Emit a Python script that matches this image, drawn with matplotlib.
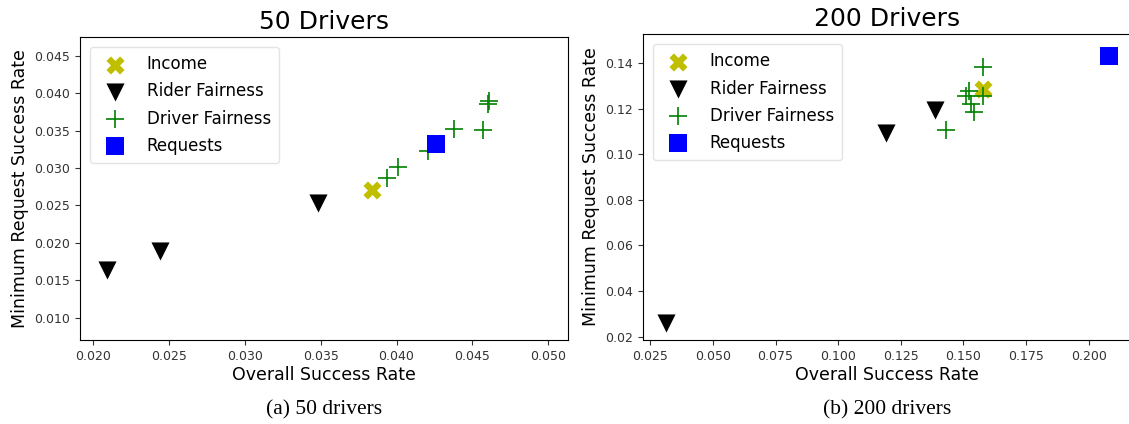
import matplotlib
matplotlib.use("Agg")
import matplotlib.pyplot as plt

# ---- 50 drivers ----
income50_x = [0.0384]
income50_y = [0.0270]
rider50_x = [0.0209, 0.0244, 0.0348]
rider50_y = [0.0164, 0.0189, 0.0253]
driver50_x = [0.0394, 0.0401, 0.0421, 0.0438, 0.0457, 0.0460, 0.0461]
driver50_y = [0.0286, 0.0301, 0.0322, 0.0352, 0.0351, 0.0386, 0.0390]
req50_x = [0.0426]
req50_y = [0.0332]

# ---- 200 drivers ----
income200_x = [0.1580]
income200_y = [0.1284]
rider200_x = [0.0313, 0.1190, 0.1388]
rider200_y = [0.0261, 0.1093, 0.1195]
driver200_x = [0.1577, 0.1432, 0.1543, 0.1521, 0.1512, 0.1530, 0.1578]
driver200_y = [0.1382, 0.1106, 0.1187, 0.1275, 0.1254, 0.1222, 0.1254]
req200_x = [0.2081]
req200_y = [0.1429]

titles = ["50 Drivers", "200 Drivers"]
captions = ["(a) 50 drivers", "(b) 200 drivers"]
labels = ["Income", "Rider Fairness", "Driver Fairness", "Requests"]

fig = plt.figure(figsize=(11.29, 4.24), dpi=100)
ax1 = fig.add_axes([80/1129, 84/424, 488/1129, 303/424])
ax2 = fig.add_axes([643/1129, 84/424, 488/1129, 306/424])

datasets = [
    (ax1, income50_x, income50_y, rider50_x, rider50_y, driver50_x, driver50_y, req50_x, req50_y),
    (ax2, income200_x, income200_y, rider200_x, rider200_y, driver200_x, driver200_y, req200_x, req200_y),
]

for i, (ax, ix, iy, rx, ry, dx, dy, qx, qy) in enumerate(datasets):
    ax.scatter(ix, iy, marker='X', s=170, color='y', label=labels[0], linewidths=0)
    ax.scatter(rx, ry, marker='v', s=170, color='k', label=labels[1], linewidths=0)
    ax.scatter(dx, dy, marker='+', s=170, color='g', label=labels[2], linewidths=1.2)
    ax.scatter(qx, qy, marker='s', s=170, color='b', label=labels[3], linewidths=0)
    ax.set_title(titles[i], fontsize=18, pad=6)
    ax.set_xlabel("Overall Success Rate", fontsize=12.5, labelpad=2)
    ax.set_ylabel("Minimum Request Success Rate", fontsize=12.5, labelpad=4)
    ax.tick_params(labelsize=9, colors='#333333', labelcolor='#333333')
    leg = ax.legend(loc='upper left', fontsize=12, borderpad=0.5, labelspacing=0.55,
                    handletextpad=0.9, borderaxespad=0.6)
    leg.get_frame().set_edgecolor('#dddddd')
    ax.text(0.5, -0.198, captions[i], transform=ax.transAxes, ha='center', va='top',
            fontsize=15.5, family='Liberation Serif')

ax1.set_xlim(0.01914, 0.0513)
ax1.set_ylim(0.0070, 0.0475)
ax1.set_xticks([0.020, 0.025, 0.030, 0.035, 0.040, 0.045, 0.050])
ax1.set_yticks([0.010, 0.015, 0.020, 0.025, 0.030, 0.035, 0.040, 0.045])

ax2.set_xlim(0.0221, 0.2169)
ax2.set_ylim(0.0185, 0.1527)
ax2.set_xticks([0.025, 0.050, 0.075, 0.100, 0.125, 0.150, 0.175, 0.200])
ax2.set_yticks([0.02, 0.04, 0.06, 0.08, 0.10, 0.12, 0.14])

fig.savefig("out.png", dpi=100)
